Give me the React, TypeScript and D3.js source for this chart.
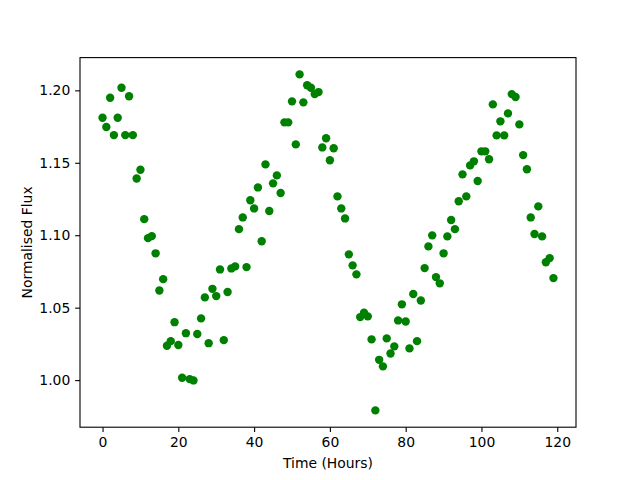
import React, { useRef, useEffect } from "react";
import * as d3 from "d3";

// flux readings, one per hour starting at t = 0
const hours: number[] = Array.from({ length: 120 }, (_, i) => i);
const flux: number[] = [
  1.1811, 1.1747, 1.1949, 1.1691, 1.1811, 1.2018, 1.1691, 1.1959, 1.1691, 1.1392,
  1.1452, 1.1111, 1.098, 1.0994, 1.0875, 1.0619, 1.0697, 1.0237, 1.0269, 1.04,
  1.0242, 1.0016, 1.0324, 1.0007, 0.9998, 1.0318, 1.0426, 1.0571, 1.0255, 1.063,
  1.058, 1.0764, 1.0276, 1.0608, 1.0771, 1.0785, 1.1042, 1.1123, 1.078, 1.1241,
  1.1185, 1.133, 1.0958, 1.1489, 1.1167, 1.1358, 1.1413, 1.1291, 1.1779, 1.1779,
  1.1924, 1.1627, 1.211, 1.1917, 1.2035, 1.2018, 1.1974, 1.1988, 1.1606, 1.1669,
  1.1517, 1.16, 1.1268, 1.1185, 1.1116, 1.0868, 1.0792, 1.073, 1.0435, 1.0465,
  1.044, 1.0281, 0.9791, 1.014, 1.0095, 1.0288, 1.0184, 1.0233, 1.0412, 1.0523,
  1.0405, 1.0219, 1.0594, 1.0269, 1.055, 1.0773, 1.0923, 1.0999, 1.0711, 1.0668,
  1.0875, 1.0992, 1.1105, 1.1042, 1.1234, 1.142, 1.1268, 1.1482, 1.151, 1.1374,
  1.1579, 1.1579, 1.1524, 1.1903, 1.1689, 1.1786, 1.1689, 1.1841, 1.1974, 1.1954,
  1.1765, 1.1553, 1.1455, 1.1123, 1.1008, 1.1199, 1.0992, 1.0813, 1.0842, 1.0704,
];
const xTicks = [0, 20, 40, 60, 80, 100, 120];
const yTicks = [1.0, 1.05, 1.1, 1.15, 1.2];

const FONT = "DejaVu Sans, sans-serif";

const Chart = () => {
  const ref = useRef<SVGSVGElement>(null);

  useEffect(() => {
    if (!ref.current) return;
    const W = 640;
    const H = 480;
    const margin = { top: 57.6, right: 64, bottom: 52.8, left: 80 };
    const width = W - margin.left - margin.right;
    const height = H - margin.top - margin.bottom;

    const root = d3.select(ref.current);
    root.selectAll("*").remove();
    const svg = root
      .append("g")
      .attr("transform", `translate(${margin.left},${margin.top})`);

    // matplotlib-like 5% padding around the data
    const [x0, x1] = d3.extent(hours) as [number, number];
    const [y0, y1] = d3.extent(flux) as [number, number];
    const px = (x1 - x0) * 0.05;
    const py = (y1 - y0) * 0.05;

    const x = d3.scaleLinear().domain([x0 - px, x1 + px]).range([0, width]);
    const y = d3.scaleLinear().domain([y0 - py, y1 + py]).range([height, 0]);

    const tick = 4.86;

    const xAxis = svg
      .append("g")
      .attr("transform", `translate(0,${height})`)
      .call(
        d3
          .axisBottom(x)
          .tickValues(xTicks)
          .tickFormat(d3.format("d") as any)
          .tickSize(tick)
          .tickPadding(4.86)
      );
    const yAxis = svg.append("g").call(
      d3
        .axisLeft(y)
        .tickValues(yTicks)
        .tickFormat(d3.format(".2f") as any)
        .tickSize(tick)
        .tickPadding(4.86)
    );
    [xAxis, yAxis].forEach((a) => {
      a.select(".domain").remove();
      a.selectAll("line").attr("stroke", "#000").attr("stroke-width", 1.1);
      a.selectAll("text")
        .attr("fill", "#000")
        .style("font-family", FONT)
        .style("font-size", "13.9px");
    });

    svg
      .append("g")
      .selectAll("circle")
      .data(hours)
      .enter()
      .append("circle")
      .attr("cx", (d) => x(d))
      .attr("cy", (_, i) => y(flux[i]))
      .attr("r", 4.2)
      .attr("fill", "green");

    svg
      .append("rect")
      .attr("width", width)
      .attr("height", height)
      .attr("fill", "none")
      .attr("stroke", "#000")
      .attr("stroke-width", 1.1);

    svg
      .append("text")
      .attr("x", width / 2)
      .attr("y", height + 41)
      .attr("text-anchor", "middle")
      .style("font-family", FONT)
      .style("font-size", "13.9px")
      .text("Time (Hours)");

    svg
      .append("text")
      .attr("transform", `translate(${-48},${height / 2}) rotate(-90)`)
      .attr("text-anchor", "middle")
      .style("font-family", FONT)
      .style("font-size", "13.9px")
      .text("Normalised Flux");
  }, []);

  return (
    <svg
      ref={ref}
      width={640}
      height={480}
      style={{ position: "absolute", left: 0, top: 0, background: "#fff" }}
    />
  );
};

export default function App() {
  return <Chart />;
}
